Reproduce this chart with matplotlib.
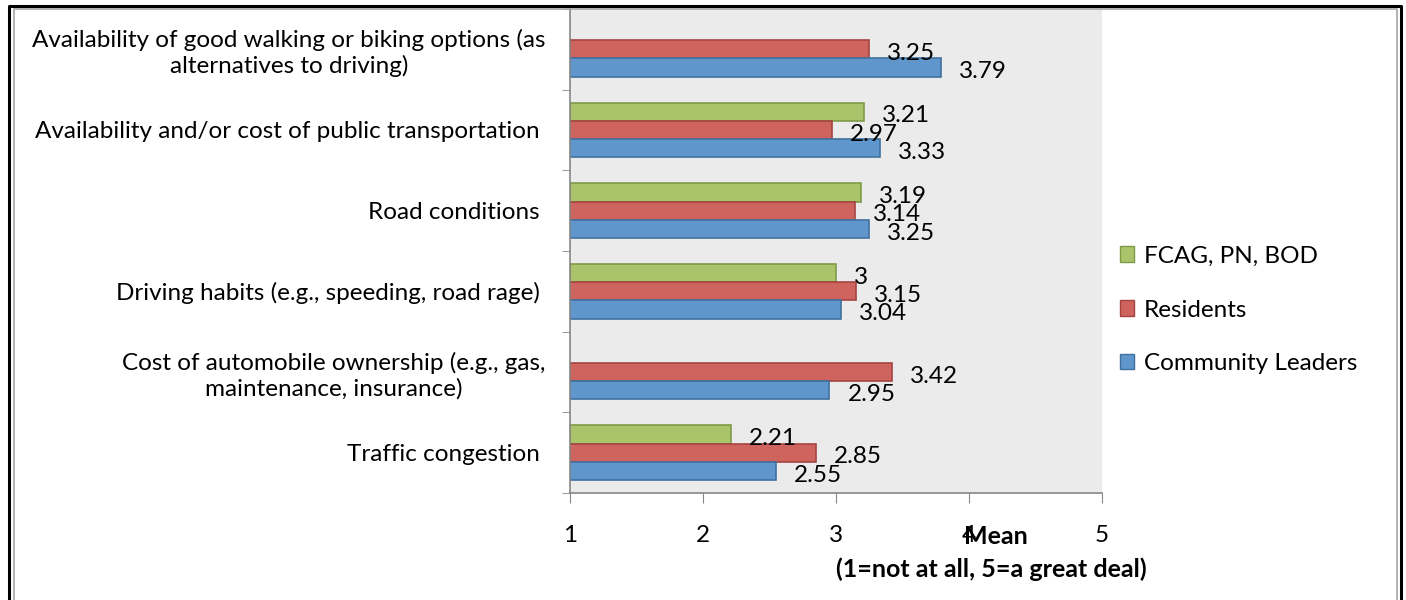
import matplotlib
matplotlib.use('Agg')
import matplotlib.pyplot as plt
import matplotlib.patches as mpatches
from matplotlib.lines import Line2D
import numpy as np

plt.rcParams['font.family'] = ['Lato', 'DejaVu Sans']

# Data (top to bottom)
categories = [
    'Availability of good walking or biking options (as\nalternatives to driving)',
    'Availability and/or cost of public transportation ',
    'Road conditions ',
    'Driving habits (e.g., speeding, road rage) ',
    'Cost of automobile ownership (e.g., gas,\nmaintenance, insurance)',
    'Traffic congestion ',
]
series_names = ['FCAG, PN, BOD', 'Residents', 'Community Leaders']
fcag = [np.nan, 3.21, 3.19, 3.00, np.nan, 2.21]
residents = [3.25, 2.97, 3.14, 3.15, 3.42, 2.85]
leaders = [3.79, 3.33, 3.25, 3.04, 2.95, 2.55]
x_ticks = [1, 2, 3, 4, 5]

colors = {
    'fcag': ('#A9C46B', '#7F9B47'),
    'res': ('#CF645F', '#A44441'),
    'cl': ('#5F96CC', '#41709F'),
}

FS = 17.5

fig = plt.figure(figsize=(14.06, 6.0), dpi=100)
ax = fig.add_axes([570 / 1406, 1 - 493 / 600, 532 / 1406, 484 / 600])
ax.set_facecolor('#EBEBEB')

y = np.arange(len(categories))
h = 0.227
offsets = [-h, 0, h]
series = [fcag, residents, leaders]
keys = ['fcag', 'res', 'cl']

for vals, off, key in zip(series, offsets, keys):
    fc, ec = colors[key]
    vals = np.array(vals, dtype=float)
    base = 1.0
    ax.barh(y + off, vals - base, left=base, height=h, color=fc,
            edgecolor=ec, linewidth=1.2)
    for yi, v in zip(y, vals):
        if np.isnan(v):
            continue
        ax.annotate(f'{v:g}', xy=(v, yi + off), xytext=(13, -3),
                    textcoords='offset points', ha='left', va='center',
                    fontsize=FS, color='black')

ax.set_xlim(1, 5)
ax.set_ylim(len(categories) - 0.5, -0.5)
ax.set_xticks(x_ticks)
ax.set_xticklabels([str(t) for t in x_ticks], fontsize=FS)
ax.set_yticks(y)
ax.set_yticklabels(categories, fontsize=FS)
for lab in ax.get_yticklabels():
    lab.set_multialignment('center')
ax.set_yticks(np.arange(len(categories) + 1) - 0.5, minor=True)
ax.tick_params(axis='y', which='major', length=0, pad=17.5)
ax.tick_params(axis='y', which='minor', length=6, color='#868686')
ax.tick_params(axis='x', length=7, color='#868686', pad=16)

for s in ['top', 'right']:
    ax.spines[s].set_visible(False)
for s in ['left', 'bottom']:
    ax.spines[s].set_color('#868686')
    ax.spines[s].set_linewidth(1.2)

# Axis title
fig.text(996 / 1406, 1 - 537 / 600, 'Mean', ha='center', va='center',
         fontsize=18, fontweight='bold')
fig.text(991 / 1406, 1 - 569 / 600, '(1=not at all, 5=a great deal)',
         ha='center', va='center', fontsize=18, fontweight='bold')

# Legend
handles = [
    mpatches.Patch(facecolor=colors['fcag'][0], edgecolor=colors['fcag'][1], label=series_names[0]),
    mpatches.Patch(facecolor=colors['res'][0], edgecolor=colors['res'][1], label=series_names[1]),
    mpatches.Patch(facecolor=colors['cl'][0], edgecolor=colors['cl'][1], label=series_names[2]),
]
fig.legend(handles=handles, loc='center left',
           bbox_to_anchor=(1110 / 1406, 1 - 310 / 600), frameon=False,
           fontsize=FS, handlelength=0.6, handleheight=0.6,
           handletextpad=0.4, labelspacing=1.35, borderaxespad=0)

# Outer frame (open at the bottom)
W, H = 1406, 600
def frame(x0, y0, x1, color, lw):
    xs = [x0 / W, x0 / W, x1 / W, x1 / W]
    ys = [0, 1 - y0 / H, 1 - y0 / H, 0]
    fig.add_artist(Line2D(xs, ys, transform=fig.transFigure,
                          color=color, linewidth=lw))

frame(9, 6, 1401, 'black', 2.2)
frame(13.5, 8.5, 1396.5, '#A6A6A6', 1.2)

fig.savefig('out.png', dpi=100)
